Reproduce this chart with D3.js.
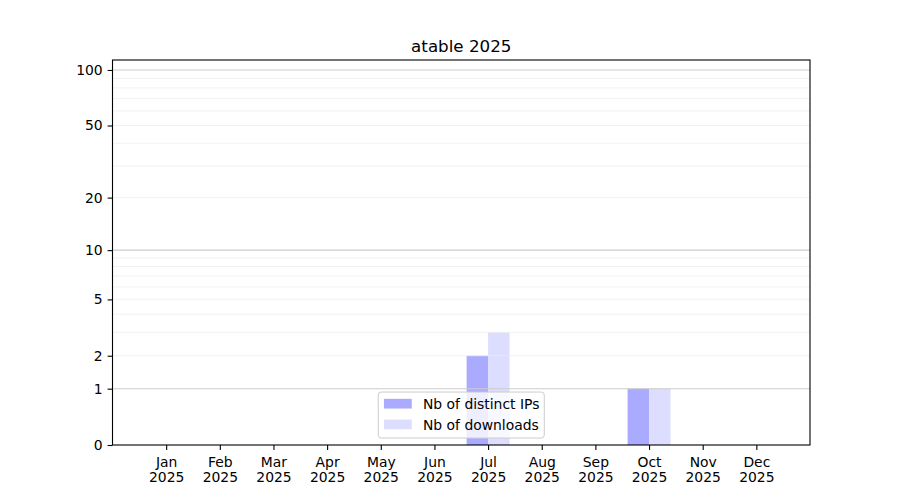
<!DOCTYPE html>
<html>
<head>
<meta charset="utf-8">
<script src="https://cdn.jsdelivr.net/npm/d3@7"></script>
<style>
  body { margin: 0; background: #fff; }
  text { font-family: "DejaVu Sans", sans-serif; fill: #000; }
</style>
</head>
<body>
<svg id="chart" width="900" height="500"></svg>
<script>
// data
const months = ["Jan", "Feb", "Mar", "Apr", "May", "Jun", "Jul", "Aug", "Sep", "Oct", "Nov", "Dec"];
const year = "2025";
const distinctIPs = [0, 0, 0, 0, 0, 0, 2, 0, 0, 1, 0, 0];
const downloads = [0, 0, 0, 0, 0, 0, 3, 0, 0, 1, 0, 0];
const yTickValues = [0, 1, 2, 5, 10, 20, 50, 100];
const majorGrid = [1, 10, 100];
const minorGrid = [2, 3, 4, 5, 6, 7, 8, 9, 20, 30, 40, 50, 60, 70, 80, 90];
const seriesNames = ["Nb of distinct IPs", "Nb of downloads"];
const seriesColors = ["#aaaaff", "#ddddff"];

const svg = d3.select("#chart");
const plotLeft = 112.5, plotRight = 810, plotTop = 60, plotBottom = 445;
const fontSize = 13.9;

// x: month index, padded by one month on each side
const x = d3.scaleLinear().domain([-1, 12]).range([plotLeft, plotRight]);
// y: log(1 + v) scale
const y = d3.scaleSymlog().constant(1).domain([0, 113.2]).range([plotBottom, plotTop]);

const barW = 0.4;

// bars
svg.append("g").selectAll("rect")
    .data(distinctIPs)
    .enter()
    .append("rect")
    .attr("x", (d, i) => x(i - barW))
    .attr("y", d => y(d))
    .attr("width", x(barW) - x(0))
    .attr("height", d => y(0) - y(d))
    .attr("fill", seriesColors[0]);

svg.append("g").selectAll("rect")
    .data(downloads)
    .enter()
    .append("rect")
    .attr("x", (d, i) => x(i))
    .attr("y", d => y(d))
    .attr("width", x(barW) - x(0))
    .attr("height", d => y(0) - y(d))
    .attr("fill", seriesColors[1]);

// grid lines (drawn over the bars like matplotlib)
svg.append("g").selectAll("line")
    .data(minorGrid)
    .enter()
    .append("line")
    .attr("x1", plotLeft).attr("x2", plotRight)
    .attr("y1", d => y(d)).attr("y2", d => y(d))
    .attr("stroke", "#eeeeee")
    .attr("stroke-width", 0.8);

svg.append("g").selectAll("line")
    .data(majorGrid)
    .enter()
    .append("line")
    .attr("x1", plotLeft).attr("x2", plotRight)
    .attr("y1", d => y(d)).attr("y2", d => y(d))
    .attr("stroke", "#cccccc")
    .attr("stroke-width", 1.1);

// axes
const yAxis = d3.axisLeft(y)
    .tickValues(yTickValues)
    .tickFormat(d3.format("d"))
    .tickSize(4.9)
    .tickPadding(4.9)
    .tickSizeOuter(0);

const gy = svg.append("g")
    .attr("transform", `translate(${plotLeft},0)`)
    .call(yAxis);
gy.select(".domain").remove();
gy.selectAll("line").attr("stroke-width", 1.1);
gy.selectAll("text")
    .attr("font-size", fontSize)
    .style("font-family", "DejaVu Sans");

const xAxis = d3.axisBottom(x)
    .tickValues(d3.range(months.length))
    .tickFormat("")
    .tickSize(4.9)
    .tickSizeOuter(0);

const gx = svg.append("g")
    .attr("transform", `translate(0,${plotBottom})`)
    .call(xAxis);
gx.select(".domain").remove();
gx.selectAll("line").attr("stroke-width", 1.1);
gx.selectAll(".tick text").remove();

// two-line month labels
const labels = gx.selectAll(".tick")
    .append("text")
    .attr("text-anchor", "middle")
    .attr("font-size", fontSize)
    .style("font-family", "DejaVu Sans")
    .attr("fill", "#000");
labels.append("tspan").attr("x", 0).attr("y", 21.5).text((d) => months[d]);
labels.append("tspan").attr("x", 0).attr("y", 37).text(year);

// spines
svg.append("rect")
    .attr("x", plotLeft).attr("y", plotTop)
    .attr("width", plotRight - plotLeft).attr("height", plotBottom - plotTop)
    .attr("fill", "none")
    .attr("stroke", "#000")
    .attr("stroke-width", 1.1);

// title
svg.append("text")
    .attr("x", (plotLeft + plotRight) / 2)
    .attr("y", 51.7)
    .attr("text-anchor", "middle")
    .attr("font-size", 16.7)
    .text("atable 2025");

// legend, lower center
const legW = 166, legH = 46;
const legX = (plotLeft + plotRight) / 2 - legW / 2;
const legY = plotBottom - 0.5 * fontSize - legH;
const legend = svg.append("g").attr("transform", `translate(${legX},${legY})`);

legend.append("rect")
    .attr("width", legW).attr("height", legH)
    .attr("rx", 3).attr("ry", 3)
    .attr("fill", "#fff").attr("fill-opacity", 0.8)
    .attr("stroke", "#cccccc").attr("stroke-width", 1);

const items = legend.selectAll(".item")
    .data(seriesNames)
    .enter()
    .append("g")
    .attr("transform", (d, i) => `translate(5.7,${6.8 + i * 20.7})`);

items.append("rect")
    .attr("width", 27.8).attr("height", 9.7)
    .attr("fill", (d, i) => seriesColors[i]);

items.append("text")
    .attr("x", 39)
    .attr("y", 10)
    .attr("font-size", fontSize)
    .text(d => d);
</script>
</body>
</html>
